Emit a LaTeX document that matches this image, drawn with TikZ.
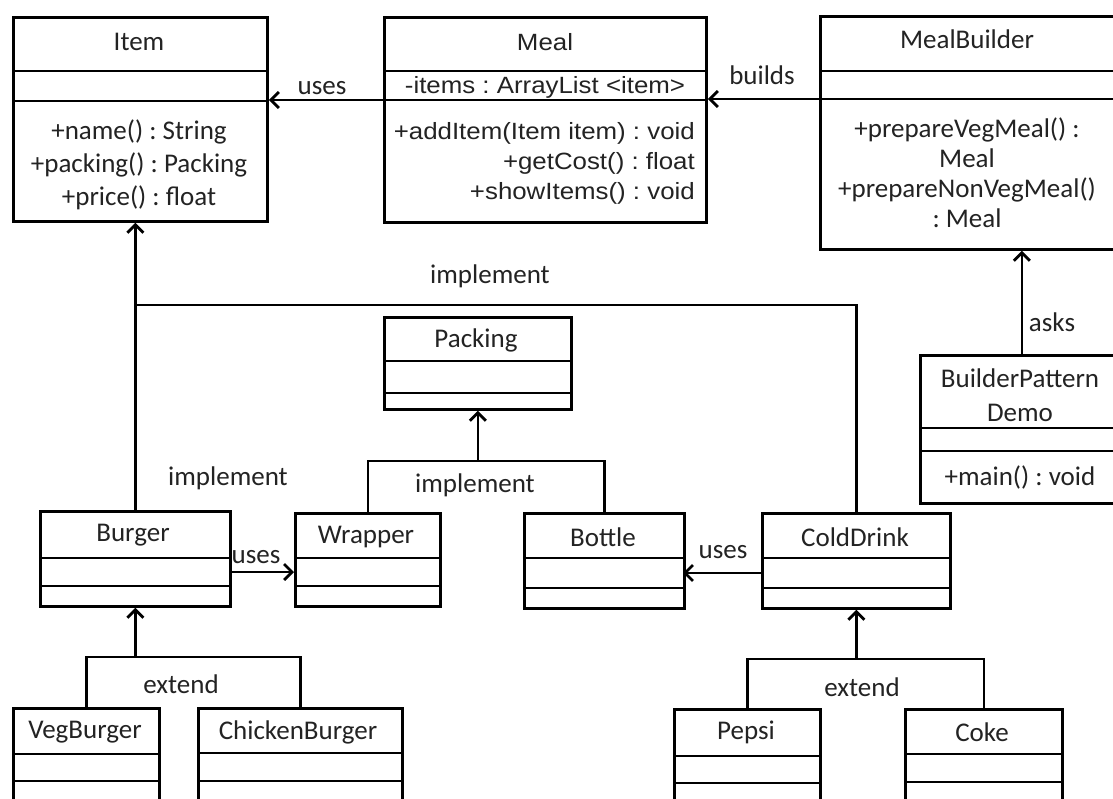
\documentclass[tikz,border=0pt]{standalone}
\usepackage{fontspec}
\setmainfont{Carlito}
\newfontfamily\mealfont[FakeStretch=1.1]{Liberation Sans}
\usetikzlibrary{arrows.meta,calc}
\definecolor{txtc}{RGB}{35,35,35}
\frenchspacing
\tikzset{
  boxst/.style={draw=black, line width=2.8pt, fill=white, inner sep=0pt, rectangle},
  divline/.style={line width=2.8pt},
  conn/.style={line width=2.8pt},
  arr/.style={conn, -{Straight Barb[length=8pt,width=16pt,line width=2.8pt]}},
  txt/.style={text=txtc, inner sep=0pt, align=center, font=\fontsize{27}{33}\selectfont\frenchspacing},
  mtxt/.style={text=txtc, inner sep=0pt, font=\mealfont\fontsize{23.5}{30}\selectfont\frenchspacing},
}
\newcommand{\classbox}[7]{%
  \node[boxst, anchor=north west, minimum width={(#4-#2)*1pt}, minimum height={(#5-#3)*1pt}] (#1) at (#2,#3) {};
  \draw[divline] (#2,#6) -- (#4,#6);
  \draw[divline] (#2,#7) -- (#4,#7);
  \coordinate (#1-mw) at (#2,{(#6+#7)/2});
  \coordinate (#1-me) at (#4,{(#6+#7)/2});
  \coordinate (#1-dw) at (#2,#7);
  \coordinate (#1-de) at (#4,#7);
}
\begin{document}
\begin{tikzpicture}[x=1pt,y=-1pt]
\useasboundingbox (0,0) rectangle (1113,798);
\clip (0,0) rectangle (1113,798);
\fill[white] (0,0) rectangle (1113,798);

% boxes
\classbox{item}{12}{16}{266}{220}{71}{101}
\classbox{meal}{383}{16}{705}{221}{71}{100}
\classbox{builder}{819}{15}{1118}{248}{71}{99}
\classbox{demo}{919}{354}{1122}{502}{428}{451}
\classbox{packing}{383}{316}{570}{408}{361}{393}
\classbox{burger}{39}{510}{229}{605}{558}{586}
\classbox{wrapper}{294}{512}{439}{605}{558}{586}
\classbox{bottle}{523}{512}{683}{607}{558}{588}
\classbox{colddrink}{761}{512}{949}{607}{558}{588}
\classbox{vegburger}{12}{707}{158}{830}{754}{781}
\classbox{chickenburger}{197}{707}{401}{830}{753}{781}
\classbox{pepsi}{673}{708}{819}{830}{756}{783}
\classbox{coke}{904}{708}{1061}{830}{754}{782}

% texts
\node[txt] (item-t) at (139,42) {Item};
\node[txt] (item-m) at (139,165) {+name() : String\\+packing() : Packing\\+price() : float};
\node[mtxt] (meal-t) at (545,42) {Meal};
\node[mtxt] (meal-a) at (545,87) {-items : ArrayList <item>};
\node[mtxt, anchor=east, align=right] (meal-m) at (695,163) {+addItem(Item item) : void\\+getCost() : float\\+showItems() : void};
\node[txt] (builder-t) at (967,39) {MealBuilder};
\node[txt, font=\fontsize{27}{30}\selectfont\frenchspacing] (builder-m) at (967,173) {+prepareVegMeal() :\\Meal\\+prepareNonVegMeal()\\: Meal};
\node[txt, font=\fontsize{27}{34}\selectfont] (demo-t) at (1020,395) {BuilderPattern\\Demo};
\node[txt] (demo-m) at (1020,477) {+main() : void};
\node[txt] (packing-t) at (476,340) {Packing};
\node[txt] (burger-t) at (133,535) {Burger};
\node[txt] (wrapper-t) at (366,537) {Wrapper};
\node[txt] (bottle-t) at (603,537) {Bottle};
\node[txt] (colddrink-t) at (855,537) {ColdDrink};
\node[txt] (vegburger-t) at (85,732) {VegBurger};
\node[txt] (chickenburger-t) at (298,732) {ChickenBurger};
\node[txt] (pepsi-t) at (746,732) {Pepsi};
\node[txt] (coke-t) at (982,732) {Coke};

% connectors
\draw[arr] (meal-dw) -- (meal-dw -| item.east);
\node[txt] (l-uses1) at (322,88) {uses};
\draw[arr] (builder-dw) -- (builder-dw -| meal.east);
\node[txt] (l-builds) at (762,75) {builds};
\draw[arr] (demo.north) -- (demo.north |- builder.south);
\node[txt] (l-asks) at (1052,322) {asks};

\draw[conn] (colddrink.north) |- (burger.north |- 0,305);
\draw[arr] (burger.north) -- (burger.north |- item.south);
\node[txt] (l-impl1) at (490,276) {implement};
\node[txt] (l-impl2) at (228,478) {implement};

\draw[conn] (wrapper.north) |- (bottle.north |- 0,461) -- (bottle.north);
\draw[arr] (packing.south |- 0,461) -- (packing.south);
\node[txt] (l-impl3) at (475,485) {implement};

\draw[arr] (burger-me) -- (wrapper-mw);
\node[txt] (l-uses2) at (256,557) {uses};
\draw[arr] (colddrink-mw) -- (bottle-me);
\node[txt] (l-uses3) at (723,552) {uses};

\draw[conn] (vegburger.north) |- (chickenburger.north |- 0,657) -- (chickenburger.north);
\draw[arr] (burger.south |- 0,657) -- (burger.south);
\node[txt] (l-ext1) at (181,684) {extend};
\draw[conn] (pepsi.north) |- (coke.north |- 0,659) -- (coke.north);
\draw[arr] (colddrink.south |- 0,659) -- (colddrink.south);
\node[txt] (l-ext2) at (862,687) {extend};
\end{tikzpicture}
\end{document}
